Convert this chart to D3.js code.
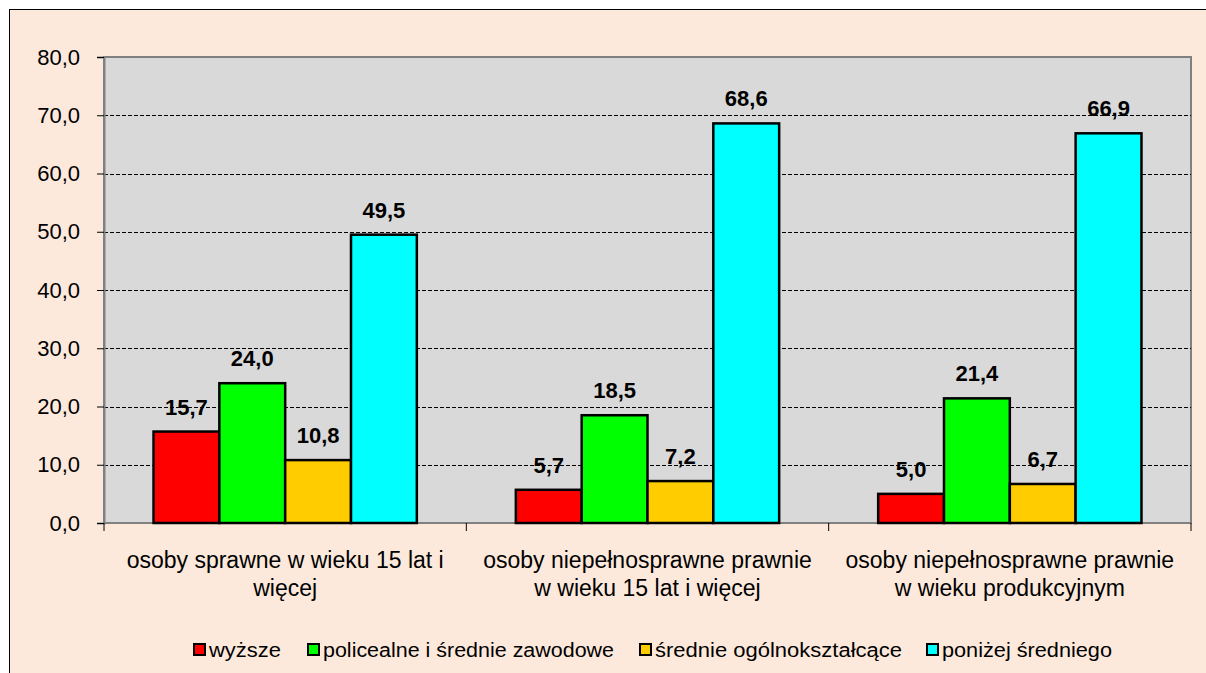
<!DOCTYPE html>
<html><head><meta charset="utf-8">
<script src="https://cdn.jsdelivr.net/npm/d3@7"></script>
<style>body{margin:0;background:#fff}svg{display:block}text{font-family:Arial,"Liberation Sans",sans-serif}</style>
</head><body><svg id="c" width="1206" height="673"></svg>
<script>
const categories = [
  ["osoby sprawne w wieku 15 lat i", "więcej"],
  ["osoby niepełnosprawne prawnie", "w wieku 15 lat i więcej"],
  ["osoby niepełnosprawne prawnie", "w wieku produkcyjnym"]
];
const seriesNames = ["wyższe", "policealne i średnie zawodowe", "średnie ogólnokształcące", "poniżej średniego"];
const seriesColors = ["#FF0000", "#00FF00", "#FFCC00", "#00FFFF"];
const vWyzsze = [15.7, 5.7, 5.0];
const vPolicealne = [24.0, 18.5, 21.4];
const vSrednie = [10.8, 7.2, 6.7];
const vPonizej = [49.5, 68.6, 66.9];
const yTicks = [0, 10, 20, 30, 40, 50, 60, 70, 80];

const values = [vWyzsze, vPolicealne, vSrednie, vPonizej];
const svg = d3.select("#c");
const loc = d3.formatLocale({decimal: ",", thousands: " ", grouping: [3], currency: ["", ""]});
const fmt = loc.format(".1f");

// frame (right and bottom edges fall outside the picture)
svg.append("rect").attr("x", 9.5).attr("y", 9.5).attr("width", 1220).attr("height", 700)
  .attr("fill", "#FCE9DB").attr("stroke", "#000").attr("stroke-width", 1);

const L = 104, R = 1191, T = 57, B = 523;
const x0 = d3.scaleBand().domain(d3.range(categories.length)).range([L, R]).paddingInner(0.2733).paddingOuter(0.1367);
const x1 = d3.scaleBand().domain(d3.range(seriesNames.length)).range([0, x0.bandwidth()]);
const y = d3.scaleLinear().domain([0, 80]).range([B, T]);

svg.append("rect").attr("x", L).attr("y", T).attr("width", R - L).attr("height", B - T)
  .attr("fill", "#D9D9D9").attr("stroke", "#808080").attr("stroke-width", 2);

// gridlines
svg.append("g").selectAll("line").data(yTicks.filter(d => d > 0 && d < 80)).join("line")
  .attr("x1", L).attr("x2", R).attr("y1", d => Math.round(y(d)) + 0.5).attr("y2", d => Math.round(y(d)) + 0.5)
  .attr("stroke", "#000").attr("stroke-dasharray", "4,2").attr("stroke-width", 1);

// y axis
const yAxis = d3.axisLeft(y).tickValues(yTicks).tickFormat(fmt).tickSize(7).tickPadding(17);
const ga = svg.append("g").attr("transform", `translate(${L},0)`).call(yAxis);
ga.select(".domain").attr("stroke", "#808080").attr("stroke-width", 2);
ga.selectAll(".tick line").attr("stroke", "#000");
ga.selectAll(".tick text").attr("font-size", 22).attr("fill", "#000").style("font-family", "Arial, 'Liberation Sans', sans-serif");

// bars
const groups = svg.append("g").selectAll("g").data(categories.map((c, i) => i)).join("g")
  .attr("transform", i => `translate(${x0(i)},0)`);
groups.selectAll("rect").data(i => values.map((v, s) => ({s, v: v[i]}))).join("rect")
  .attr("x", d => x1(d.s)).attr("width", x1.bandwidth())
  .attr("y", d => y(d.v)).attr("height", d => y(0) - y(d.v))
  .attr("fill", d => seriesColors[d.s]).attr("stroke", "#000").attr("stroke-width", 2.5);
groups.selectAll("text").data(i => values.map((v, s) => ({s, v: v[i]}))).join("text")
  .attr("x", d => x1(d.s) + x1.bandwidth() / 2).attr("y", d => y(d.v) - 17)
  .attr("text-anchor", "middle").attr("font-size", 22).attr("font-weight", "bold").text(d => fmt(d.v));

// category boundary ticks
const bounds = d3.range(categories.length + 1).map(i => i < categories.length ? x0(i) - x0.step() * x0.paddingInner() / 2 : R);
bounds[0] = L;
svg.append("g").selectAll("line").data(bounds).join("line")
  .attr("x1", d => d).attr("x2", d => d).attr("y1", B).attr("y2", B + 8).attr("stroke", "#000").attr("stroke-width", 1);

// category labels
const cl = svg.append("g").selectAll("text").data(categories).join("text")
  .attr("x", (c, i) => x0(i) + x0.bandwidth() / 2).attr("y", 568)
  .attr("text-anchor", "middle").attr("font-size", 23);
cl.selectAll("tspan").data(c => c).join("tspan")
  .attr("x", function () { return this.parentNode.getAttribute("x"); })
  .attr("dy", (d, j) => j === 0 ? 0 : 28).text(d => d);

// legend
const legX = [193, 307, 639, 926];
const legW = [72, 291, 247, 170];
const lg = svg.append("g").selectAll("g").data(seriesNames).join("g")
  .attr("transform", (d, i) => `translate(${legX[i]},650)`);
lg.append("rect").attr("x", 1).attr("y", -6).attr("width", 11).attr("height", 11)
  .attr("fill", (d, i) => seriesColors[i]).attr("stroke", "#000").attr("stroke-width", 2);
lg.append("text").attr("x", 16).attr("y", 7).attr("font-size", 20)
  .attr("textLength", (d, i) => legW[i]).attr("lengthAdjust", "spacingAndGlyphs").text(d => d);
</script></body></html>
